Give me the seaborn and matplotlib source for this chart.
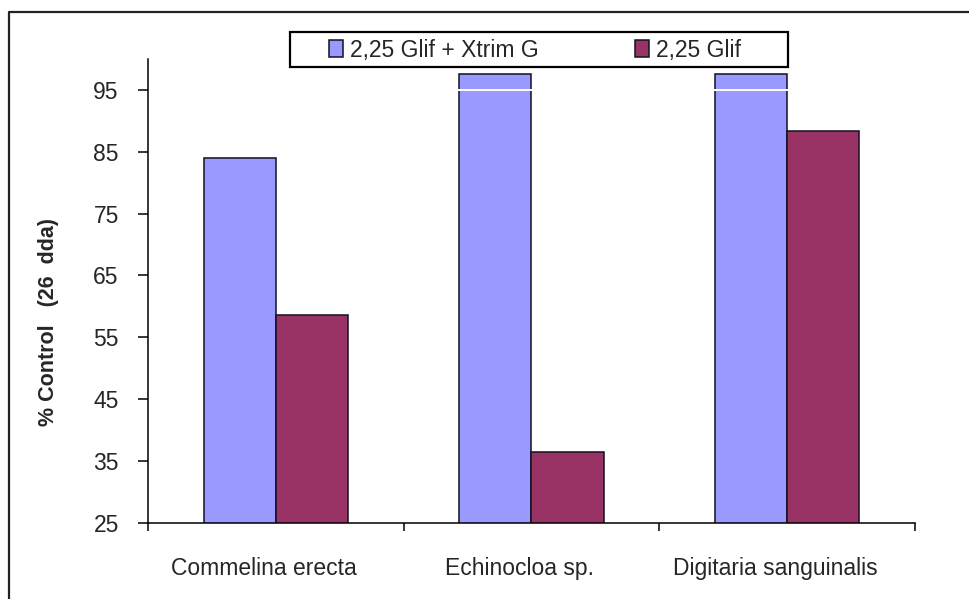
import matplotlib
matplotlib.use("Agg")
import matplotlib.pyplot as plt
import matplotlib.transforms as mtransforms
from matplotlib.lines import Line2D
from matplotlib.patches import Rectangle
import numpy as np
import pandas as pd
import seaborn as sns

# Weed species and control (%) 26 days after application
species = ["Commelina erecta", "Echinocloa sp.", "Digitaria sanguinalis"]
treatments = ["2,25 Glif + Xtrim G", "2,25 Glif"]
control_glif_xtrim = [84.0, 97.5, 97.5]
control_glif = [58.6, 36.5, 88.3]
y_ticks = [25, 35, 45, 55, 65, 75, 85, 95]
y_label = "% Control   (26  dda)"

bar_colors = ["#9999FF", "#993366"]

df = pd.DataFrame({
    "species": species * 2,
    "treatment": [treatments[0]] * 3 + [treatments[1]] * 3,
    "control": control_glif_xtrim + control_glif,
})

sns.set_style("white")
plt.rcParams["font.family"] = ["Liberation Sans", "DejaVu Sans"]

W, H = 970, 599
FS = 16.5
fig = plt.figure(figsize=(W / 100, H / 100), dpi=100)
ax = fig.add_axes([148 / W, 1 - 522.7 / H, (915 - 148) / W, (522.7 - 59) / H])

sns.barplot(
    data=df, x="species", y="control", hue="treatment",
    order=species, hue_order=treatments, palette=bar_colors,
    saturation=1, width=0.565, gap=0, edgecolor="#111122", linewidth=1.1,
    errorbar=None, ax=ax,
)

ax.set_ylim(25, 100)
ax.set_xlim(-0.5, len(species) - 0.5)
ax.set_yticks(y_ticks)
ax.set_xlabel("")
ax.set_ylabel("")

# thin white rule at the 95 level, visible across the tallest bars
ax.axhline(95, xmin=0.004, xmax=1, color="white", lw=1.4, zorder=4)

for side in ["top", "right"]:
    ax.spines[side].set_visible(False)
for side in ["left", "bottom"]:
    ax.spines[side].set_color("black")
    ax.spines[side].set_linewidth(1.1)

ax.tick_params(axis="y", direction="out", length=7, width=1.1, color="black",
               pad=14, labelsize=FS, left=True)
ax.tick_params(axis="x", which="major", length=0, pad=25, labelsize=FS, bottom=True)
ax.set_xticks(np.arange(-0.5, len(species), 1.0), minor=True)
ax.tick_params(axis="x", which="minor", direction="out", length=6, width=1.1,
               color="black", bottom=True)

shift = mtransforms.ScaledTranslation(-12 / 100, 0, fig.dpi_scale_trans)
for lbl in ax.get_xticklabels():
    lbl.set_transform(lbl.get_transform() + shift)

# legend across the top, inside a plain box
handles, labels = ax.get_legend_handles_labels()
ax.get_legend().remove()
fig.legend(handles, labels, loc="center", bbox_to_anchor=(535 / W, 1 - 50 / H),
           ncol=2, frameon=False, fontsize=FS, handlelength=0.62,
           handleheight=0.78, handletextpad=0.3, columnspacing=4.2,
           borderpad=0.2)
fig.patches.append(Rectangle((290 / W, 1 - 67 / H), (788 - 290) / W, (67 - 32) / H,
                             transform=fig.transFigure, fill=False,
                             edgecolor="black", linewidth=1.6))

fig.text(49 / W, 1 - 322 / H, y_label, rotation=90, ha="center", va="center",
         fontsize=15.5, fontweight="bold")

# outer frame (top and left edges)
fig.lines.append(Line2D([9 / W, 9 / W, 1.0], [0.0, 1 - 12 / H, 1 - 12 / H],
                        transform=fig.transFigure, color="#222222", lw=1.6))

fig.savefig("out.png", dpi=100)
